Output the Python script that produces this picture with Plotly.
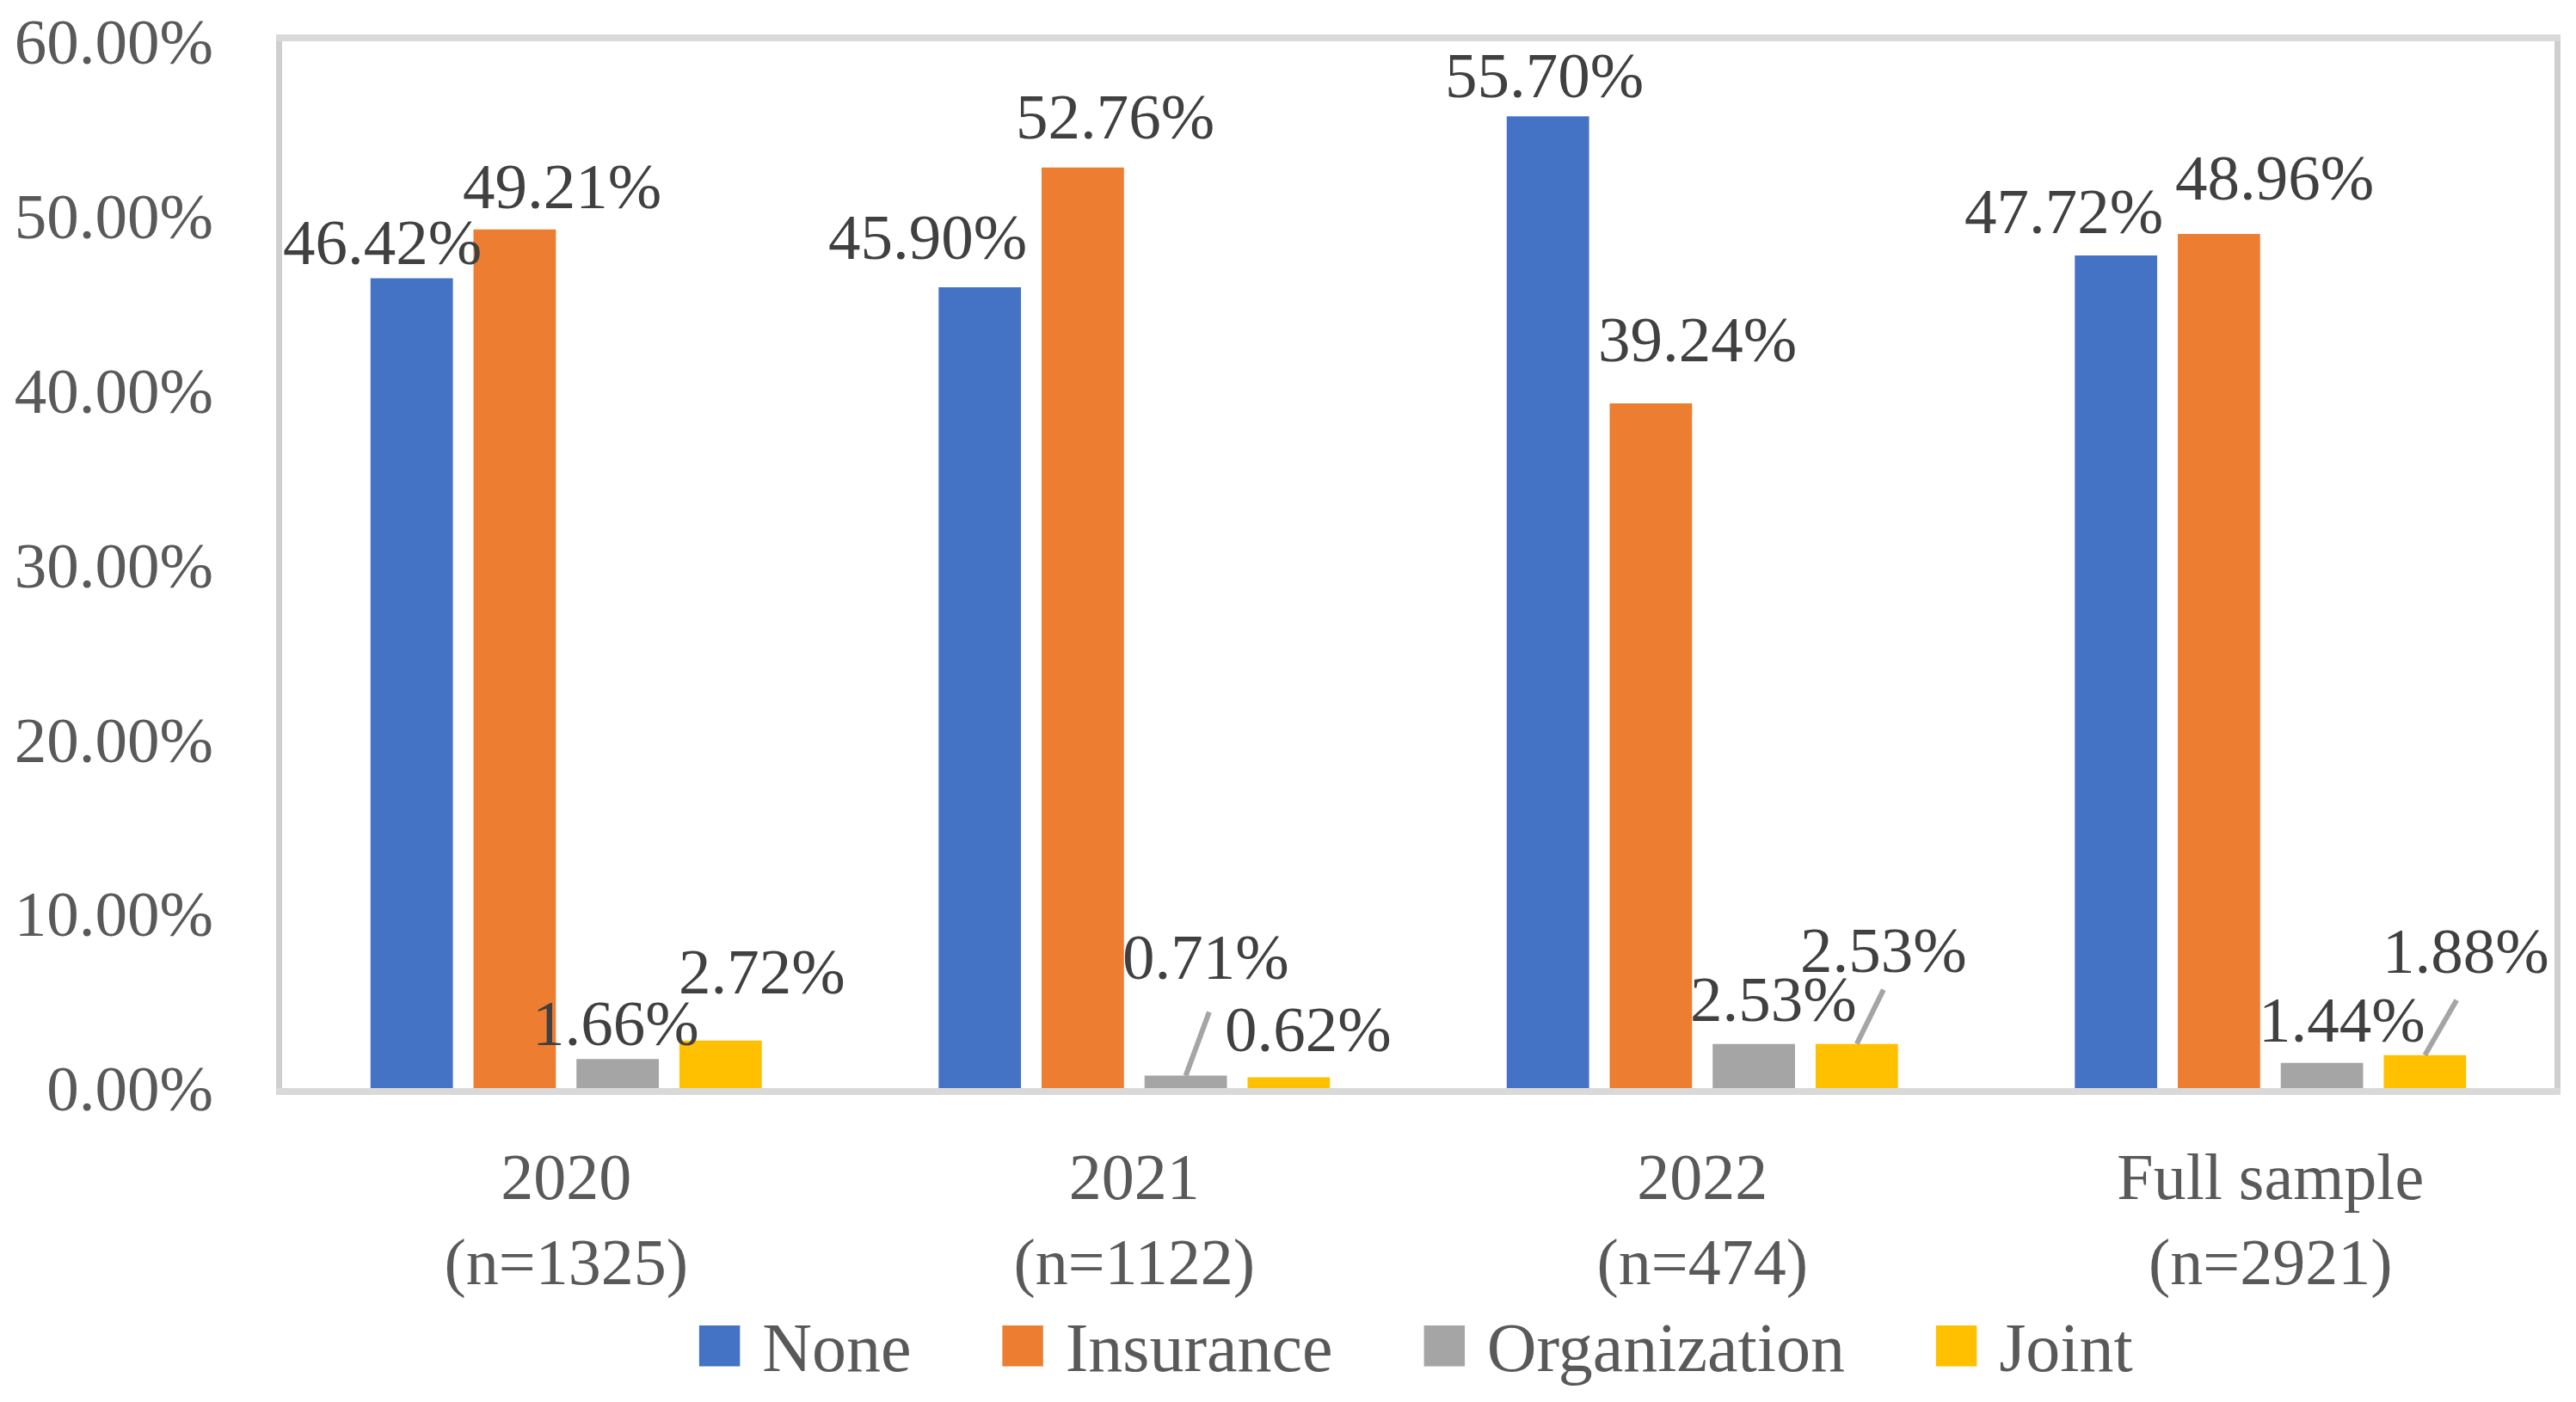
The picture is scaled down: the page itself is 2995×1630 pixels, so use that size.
import plotly.graph_objects as go

# ---- data ----
categories = ["2020", "2021", "2022", "Full sample"]
sample_sizes = [1325, 1122, 474, 2921]
series_names = ["None", "Insurance", "Organization", "Joint"]
none_vals = [46.42, 45.90, 55.70, 47.72]
insurance_vals = [49.21, 52.76, 39.24, 48.96]
organization_vals = [1.66, 0.71, 2.53, 1.44]
joint_vals = [2.72, 0.62, 2.53, 1.88]
y_ticks = [0, 10, 20, 30, 40, 50, 60]

# ---- style ----
colors = ["#4472C4", "#ED7D31", "#A5A5A5", "#FFC000"]
FONT = "Liberation Serif"
FS = 75
BARGAP = 0.275
BARGROUPGAP = 0.2

# label nudges (px: dx right, dy up) per series per category
label_nudge = {
    "None":         [(-34, 42), (-61, 59), (-4, 48), (-61, 52)],
    "Insurance":    [(55, 50), (38, 59), (54, 75), (65, 65)],
    "Organization": [(-2, 42), (23, 138), (23, 52), (23, 50)],
    "Joint":        [(48, 80), (23, 56), (31, 109), (48, 121)],
}
# leader-line tail offsets (px: dx right, dy up) from the bar top, None = no leader
leader_tail = {
    "Organization": [None, (28, 76), None, None],
    "Joint":        [None, None, (32, 65), (38, 66)],
}

series_vals = [none_vals, insurance_vals, organization_vals, joint_vals]
tick_labels = [f"{c}<br>(n={n})" for c, n in zip(categories, sample_sizes)]
y_tick_text = [f"{v:.2f}%" for v in y_ticks]

fig = go.Figure()
for name, vals, col in zip(series_names, series_vals, colors):
    fig.add_trace(go.Bar(
        x=categories, y=vals, name=name, marker_color=col,
        marker_line_width=0, showlegend=False,
    ))

slot = (1 - BARGAP) / len(series_names)
annotations = []
for k, (name, vals) in enumerate(zip(series_names, series_vals)):
    for i, v in enumerate(vals):
        xpos = i + (k - (len(series_names) - 1) / 2) * slot
        dx, dy = label_nudge[name][i]
        annotations.append(dict(
            x=xpos, y=v, xref="x", yref="y", text=f"{v:.2f}%", showarrow=False,
            xshift=dx, yshift=dy, yanchor="middle",
            font=dict(family=FONT, size=FS, color="#404040"),
        ))
        tail = leader_tail.get(name, [None] * 4)[i]
        if tail is not None:
            annotations.append(dict(
                x=xpos, y=v, xref="x", yref="y", text=" ",
                showarrow=True, arrowhead=0, arrowwidth=6, arrowcolor="#A5A5A5",
                ax=tail[0], ay=-tail[1], standoff=0, startstandoff=0,
                font=dict(family=FONT, size=1, color="rgba(0,0,0,0)"),
            ))

# legend as a text row built from series names/colours
sp = "&nbsp;"
legend_text = (sp * 5).join(
    f'<span style="color:{c};font-size:98px">■</span>{sp}{n}'
    for n, c in zip(series_names, colors)
)
annotations.append(dict(
    x=0.498, y=-0.243, xref="paper", yref="paper", text=legend_text,
    showarrow=False, xanchor="center", yanchor="middle",
    font=dict(family=FONT, size=80, color="#595959"),
))

fig.update_layout(
    width=2979, height=1614,
    margin=dict(l=320, r=17, t=40, b=357, autoexpand=False),
    paper_bgcolor="white", plot_bgcolor="white",
    barmode="group", bargap=BARGAP, bargroupgap=BARGROUPGAP,
    font=dict(family=FONT, size=FS, color="#595959"),
    annotations=annotations,
    showlegend=False,
)
fig.update_xaxes(
    type="category", tickvals=categories, ticktext=tick_labels,
    range=[-0.5, len(categories) - 0.5], automargin=False,
    showline=True, mirror=True, linecolor="#D9D9D9", linewidth=8,
    ticks="", showgrid=False, ticklabelstandoff=30,
    tickfont=dict(family=FONT, size=76, color="#595959"),
)
fig.update_yaxes(
    range=[0, 60], tickvals=y_ticks, ticktext=y_tick_text, automargin=False,
    showline=True, mirror=True, linecolor="#D0CECE", linewidth=7,
    ticks="", showgrid=False, zeroline=False, ticklabelstandoff=58,
    ticklabeloverflow="allow",
    tickfont=dict(family=FONT, size=FS, color="#595959"),
)

fig.write_html("out.html")
